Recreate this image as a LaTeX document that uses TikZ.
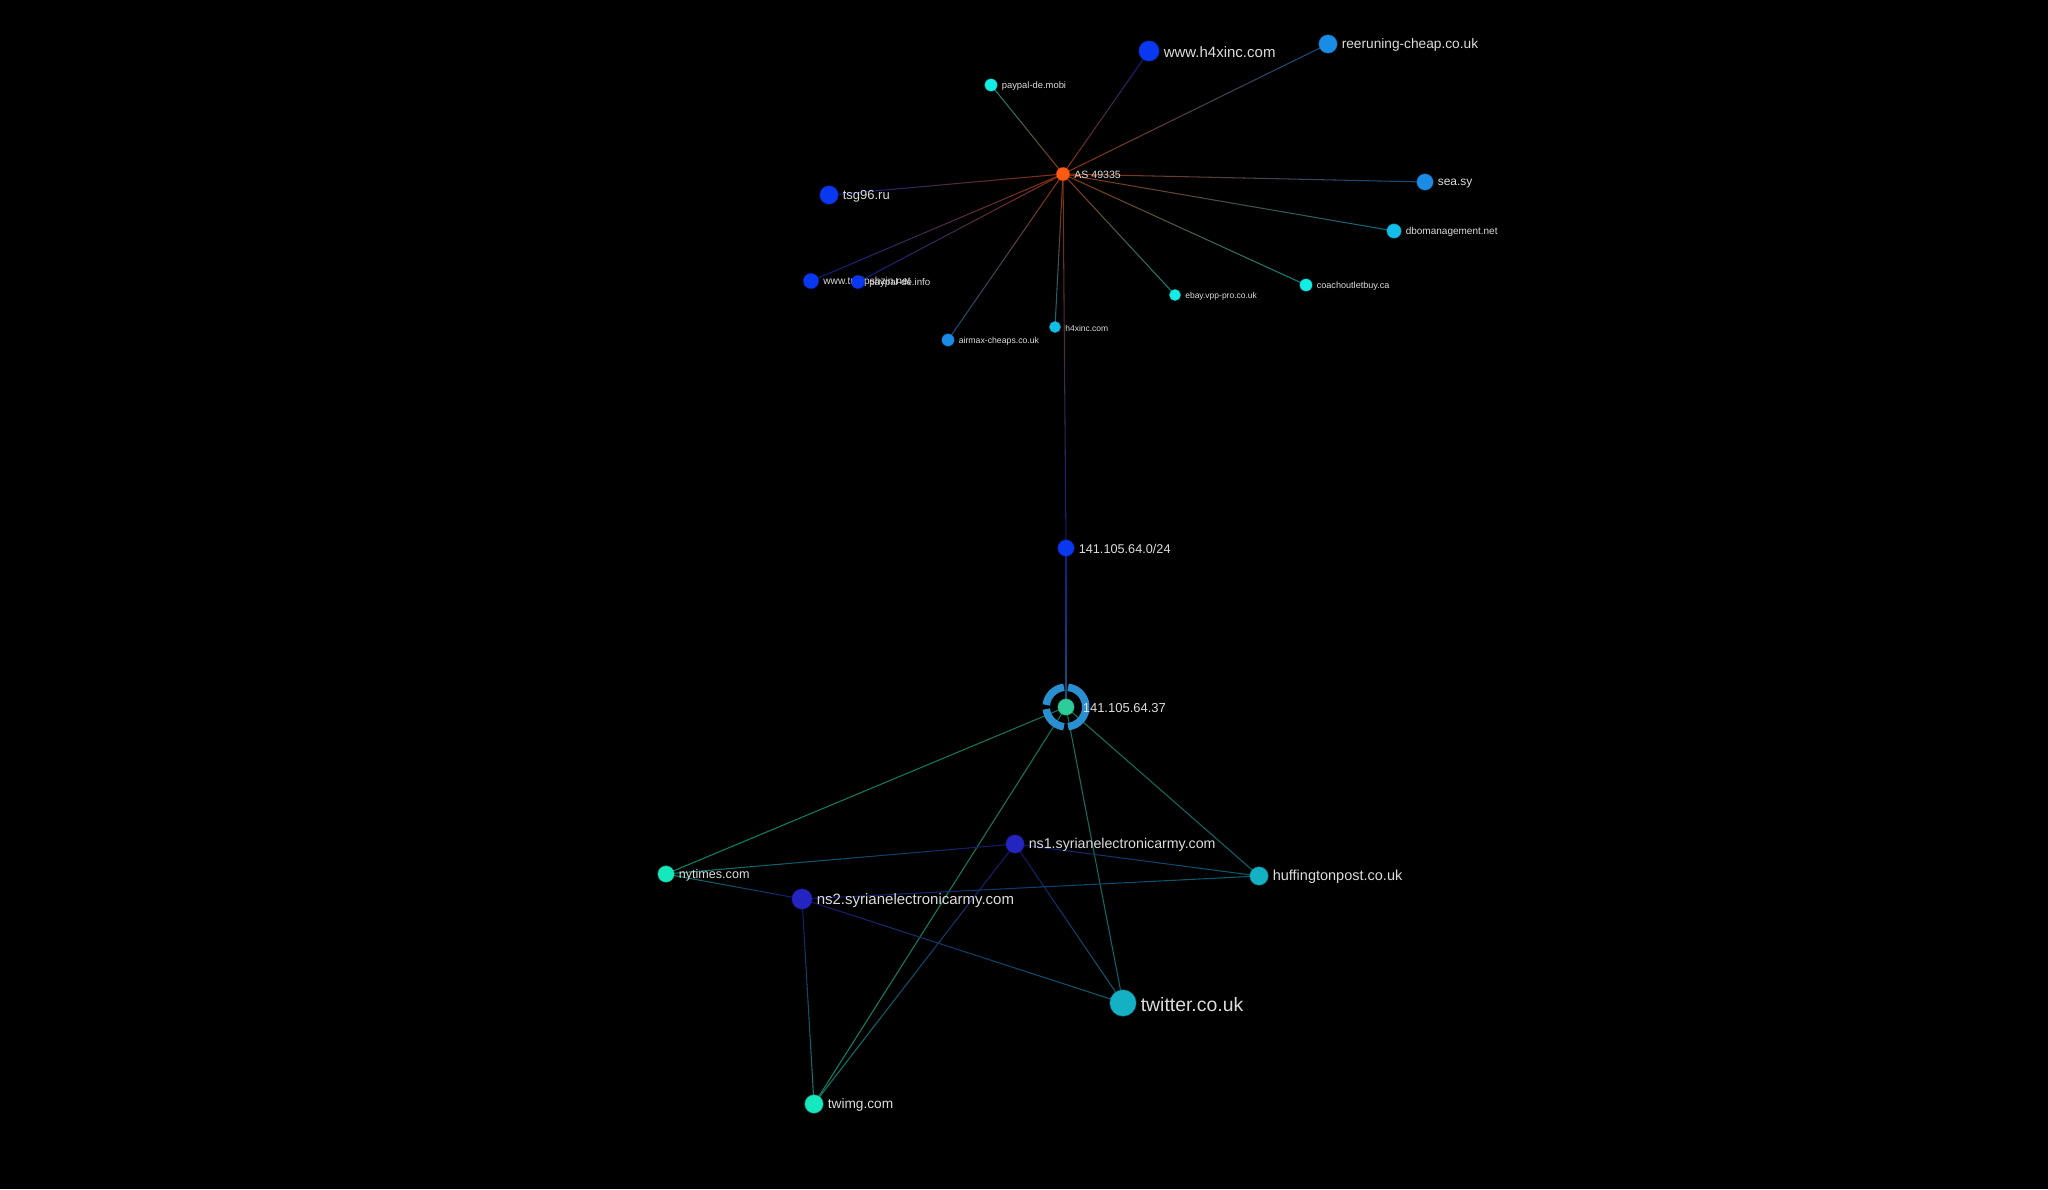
\documentclass[tikz,border=0pt]{standalone}
\usepackage{fontspec}
\setmainfont{Liberation Sans}
\usetikzlibrary{calc}

\definecolor{asorange}{HTML}{FF5A12}
\definecolor{hostblue}{HTML}{0A38F0}
\definecolor{skyblue}{HTML}{1A8CE6}
\definecolor{deepsky}{HTML}{12BEE8}
\definecolor{cyanlite}{HTML}{12EEE6}
\definecolor{mint}{HTML}{2ECC9A}
\definecolor{ringblue}{HTML}{2A8FD0}
\definecolor{aqua}{HTML}{16E8BE}
\definecolor{nsblue}{HTML}{2424C0}
\definecolor{teal}{HTML}{14B0C4}
\definecolor{labelgray}{HTML}{DCDCDC}

\pgfdeclarelayer{bg}
\pgfdeclarelayer{links}
\pgfsetlayers{bg,links,main}

% link drawn in short pieces, colour going from #3 to #4
\newcommand{\gradlink}[4]{%
  \foreach \k in {0,...,11}{%
    \pgfmathtruncatemacro{\mixpc}{100-(\k+0.5)*100/12}
    \pgfmathsetmacro{\ta}{\k/12}
    \pgfmathsetmacro{\tb}{(\k+1)/12}
    \colorlet{linkcol}{#3!\mixpc!#4}
    \draw[link, linkcol!56!black] ($(#1)!\ta!(#2)$) -- ($(#1)!\tb!(#2)$);
  }}

\begin{document}
\begin{tikzpicture}[x=1pt, y=-1pt, label distance=3pt]
\tikzstyle{host}=[circle, inner sep=0pt, minimum size=#1, draw opacity=0.45, line width=1.2pt]
\tikzstyle{txt}=[text=labelgray, inner sep=1pt, yshift=-1.2pt, font=\fontsize{#1}{#1}\selectfont]
\tikzstyle{link}=[line width=1.05pt, line cap=round]
\useasboundingbox (0,0) rectangle (2048,1189);
\begin{pgfonlayer}{bg}
\fill[black] (0,0) rectangle (2048,1189);
\end{pgfonlayer}

% AS and its hosts
\node[host=13, fill=asorange, draw=asorange]   (AS)   at (1063,174) [label={[txt=10.6]right:AS 49335}] {};
\node[host=20, fill=hostblue, draw=hostblue]   (WH4)  at (1149,51)  [label={[txt=15]right:www.h4xinc.com}] {};
\node[host=18, fill=skyblue, draw=skyblue]     (REE)  at (1328,44)  [label={[txt=13.7]right:reeruning-cheap.co.uk}] {};
\node[host=12, fill=cyanlite, draw=cyanlite]   (PPM)  at (991,85)   [label={[txt=9.4]right:paypal-de.mobi}] {};
\node[host=18, fill=hostblue, draw=hostblue]   (TSG)  at (829,195)  [label={[txt=13]right:tsg96.ru}] {};
\node[host=16, fill=skyblue, draw=skyblue]     (SEA)  at (1425,182) [label={[txt=12]right:sea.sy}] {};
\node[host=14, fill=deepsky, draw=deepsky]     (DBO)  at (1394,231) [label={[txt=10]right:dbomanagement.net}] {};
\node[host=12, fill=cyanlite, draw=cyanlite]   (CNB)  at (1306,285) [label={[txt=9.1]right:coachoutletbuy.ca}] {};
\node[host=11, fill=cyanlite, draw=cyanlite]   (EBY)  at (1175,295) [label={[txt=8.5]right:ebay.vpp-pro.co.uk}] {};
\node[host=11, fill=deepsky, draw=deepsky]     (H4)   at (1055,327) [label={[txt=8.5]right:h4xinc.com}] {};
\node[host=12, fill=skyblue, draw=skyblue]     (AIR)  at (948,340)  [label={[txt=8.7]right:airmax-cheaps.co.uk}] {};
\node[host=15, fill=hostblue, draw=hostblue]   (TUD)  at (811,281)  [label={[txt=10.2]right:www.tudipshzin.net}] {};
\node[host=13, fill=hostblue, draw=hostblue]   (PPI)  at (858,282)  [label={[txt=9.7]right:paypal-de.info}] {};

% net and address
\node[host=16, fill=hostblue, draw=hostblue]   (NET)  at (1066,548) [label={[txt=12.7]right:141.105.64.0/24}] {};
\draw[ringblue, line width=7.5pt] (1066,707) ++(96:19.8pt)  arc[start angle=96,  end angle=174, radius=19.8pt];
\draw[ringblue, line width=7.5pt] (1066,707) ++(186:19.8pt) arc[start angle=186, end angle=264, radius=19.8pt];
\draw[ringblue, line width=7.5pt] (1066,707) ++(276:19.8pt) arc[start angle=276, end angle=444, radius=19.8pt];
\node[host=16, fill=mint, draw=mint]           (IP)   at (1066,707) [label={[txt=13, label distance=7pt]right:141.105.64.37}] {};

% sites and name servers
\node[host=16, fill=aqua, draw=aqua]           (NYT)  at (666,874)  [label={[txt=12.6]right:nytimes.com}] {};
\node[host=18, fill=nsblue, draw=nsblue]       (NS1)  at (1015,844) [label={[txt=14.2]right:ns1.syrianelectronicarmy.com}] {};
\node[host=20, fill=nsblue, draw=nsblue]       (NS2)  at (802,899)  [label={[txt=15]right:ns2.syrianelectronicarmy.com}] {};
\node[host=18, fill=teal, draw=teal]           (HUF)  at (1259,876) [label={[txt=14.5]right:huffingtonpost.co.uk}] {};
\node[host=26, fill=teal, draw=teal]           (TWT)  at (1123,1003) [label={[txt=19.4]right:twitter.co.uk}] {};
\node[host=18, fill=aqua, draw=aqua]           (TWI)  at (814,1104) [label={[txt=13.7]right:twimg.com}] {};

\begin{pgfonlayer}{links}
\gradlink{AS}{WH4}{asorange}{hostblue}
\gradlink{AS}{REE}{asorange}{skyblue}
\gradlink{AS}{PPM}{asorange}{cyanlite}
\gradlink{AS}{TSG}{asorange}{hostblue}
\gradlink{AS}{SEA}{asorange}{skyblue}
\gradlink{AS}{DBO}{asorange}{deepsky}
\gradlink{AS}{CNB}{asorange}{cyanlite}
\gradlink{AS}{EBY}{asorange}{cyanlite}
\gradlink{AS}{H4}{asorange}{deepsky}
\gradlink{AS}{AIR}{asorange}{skyblue}
\gradlink{AS}{TUD}{asorange}{hostblue}
\gradlink{AS}{PPI}{asorange}{hostblue}
\gradlink{AS}{NET}{asorange}{hostblue}
\gradlink{NET}{IP}{hostblue}{ringblue}
\gradlink{IP}{NYT}{mint}{aqua}
\gradlink{IP}{TWI}{mint}{aqua}
\gradlink{IP}{TWT}{mint}{teal}
\gradlink{IP}{HUF}{mint}{teal}
\gradlink{NS1}{NYT}{nsblue}{aqua}
\gradlink{NS1}{HUF}{nsblue}{teal}
\gradlink{NS1}{TWT}{nsblue}{teal}
\gradlink{NS1}{TWI}{nsblue}{aqua}
\gradlink{NS2}{NYT}{nsblue}{aqua}
\gradlink{NS2}{HUF}{nsblue}{teal}
\gradlink{NS2}{TWT}{nsblue}{teal}
\gradlink{NS2}{TWI}{nsblue}{aqua}
\end{pgfonlayer}
\end{tikzpicture}
\end{document}
